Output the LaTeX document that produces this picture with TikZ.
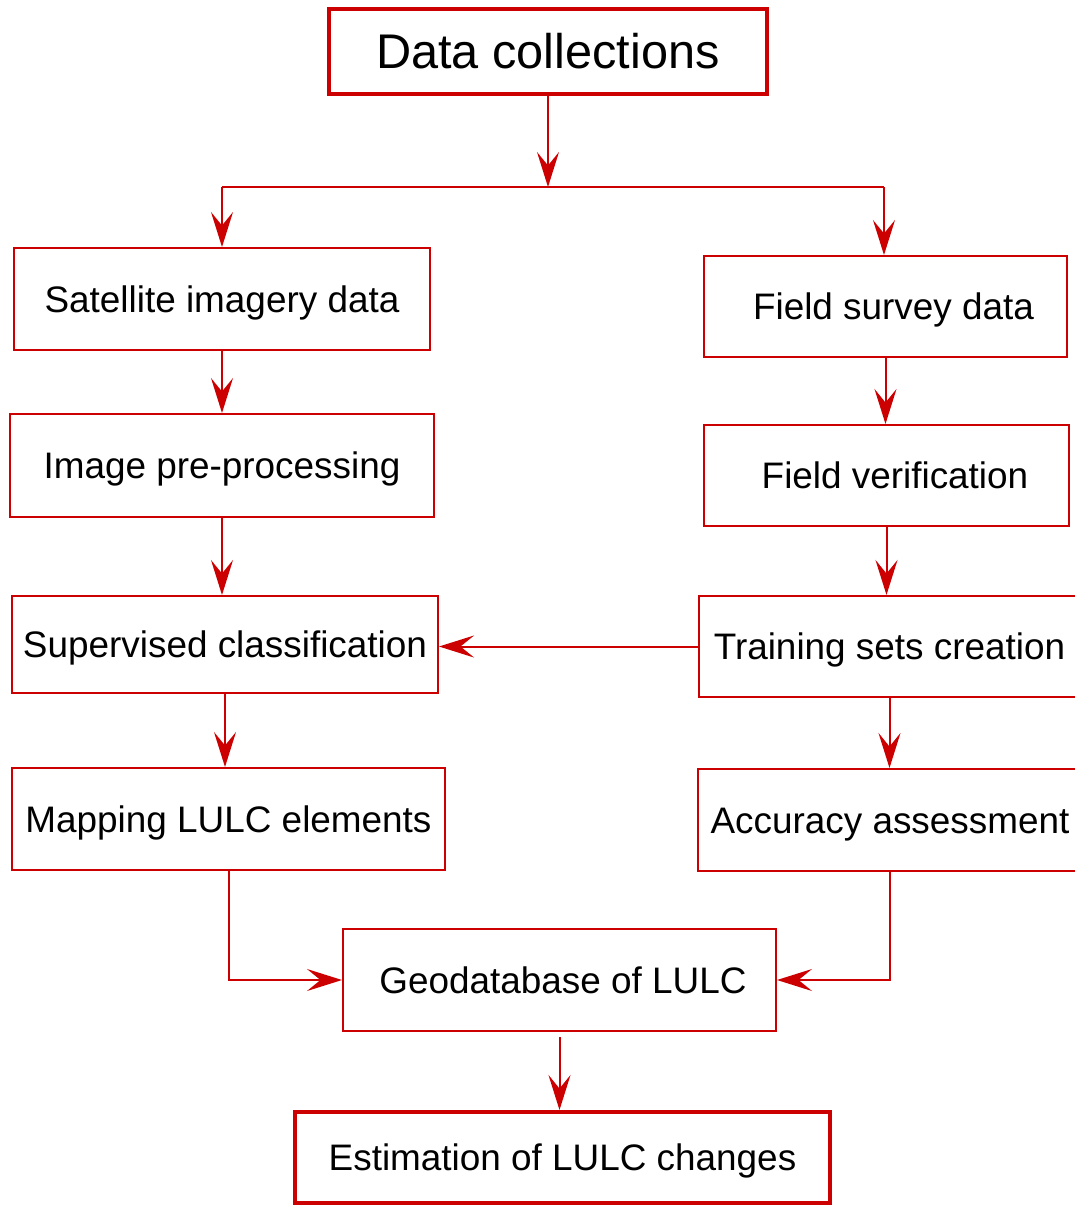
\documentclass[tikz,border=0pt]{standalone}
\usepackage{fontspec}
\setmainfont{Liberation Sans}
\usetikzlibrary{arrows.meta}
\definecolor{lred}{RGB}{204,0,0}
\begin{document}
\begin{tikzpicture}[x=0.02cm,y=-0.02cm,
  box/.style={draw=lred, line width=0.04cm, fill=white, inner sep=0pt,
    text height=15pt, text depth=0pt,
    font=\fontsize{21}{25}\selectfont, text=black},
  thickbox/.style={box, line width=0.08cm},
  arr/.style={draw=lred, line width=0.04cm,
    -{Stealth[length=0.7cm, width=0.44cm, inset=0.27cm]}},
  ln/.style={draw=lred, line width=0.04cm}]
\useasboundingbox[fill=white] (0,0) rectangle (1075,1205);

\node[thickbox, minimum width=438*0.02cm, minimum height=85*0.02cm,
  text height=19.8pt, font=\fontsize{27.7}{32}\selectfont] (dc) at (548,51.5) {Data collections};
\node[box, minimum width=416*0.02cm, minimum height=102*0.02cm] (sat) at (222,299) {Satellite imagery data};
\node[box, minimum width=363*0.02cm, minimum height=101*0.02cm] (fs) at (885.5,306.5) {\hspace{0.32cm}Field survey data};
\node[box, minimum width=424*0.02cm, minimum height=103*0.02cm] (ip) at (222,465.5) {Image pre-processing};
\node[box, minimum width=365*0.02cm, minimum height=101*0.02cm] (fv) at (886.5,475.5) {\hspace{0.34cm}Field verification};
\node[box, minimum width=426*0.02cm, minimum height=97*0.02cm] (sc) at (225,644.5) {Supervised classification};
\node[box, minimum width=381*0.02cm, minimum height=101*0.02cm] (ts) at (889.5,646.5) {Training sets creation\hspace{0.14cm}};
\node[box, minimum width=433*0.02cm, minimum height=102*0.02cm] (ml) at (228.5,819) {Mapping LULC elements};
\node[box, minimum width=384*0.02cm, minimum height=102*0.02cm] (aa) at (890,820) {Accuracy assessment};
\node[box, minimum width=433*0.02cm, minimum height=102*0.02cm] (gd) at (559.5,980) {\hspace{0.14cm}Geodatabase of LULC};
\node[thickbox, minimum width=535*0.02cm, minimum height=91*0.02cm] (es) at (562.5,1157.5) {Estimation of LULC changes\hspace{0.1cm}};

\coordinate (split) at (548,187);
\coordinate (lb) at (222,187);
\coordinate (rb) at (884,187);

\draw[arr] (dc.south) -- (split);
\draw[ln] (lb) -- (rb);
\draw[arr] (lb) -- (sat.north);
\draw[arr] (rb) -- (rb |- fs.north);
\draw[arr] (sat.south) -- (sat.south |- ip.north);
\draw[arr] (ip.south) -- (ip.south |- sc.north);
\draw[arr] (sc.south) -- (sc.south |- ml.north);
\draw[arr] (fs.south) -- (fs.south |- fv.north);
\draw[arr] (fv.south) -- (fv.south |- ts.north);
\draw[arr] (ts.west) -- (ts.west -| sc.east);
\draw[arr] (ts.south) -- (ts.south |- aa.north);
\draw[arr] (ml.south) |- (gd.west);
\draw[arr] (aa.south) |- (gd.east);
\draw[arr, shorten <=0.1cm] (gd.south) -- (gd.south |- es.north);
\end{tikzpicture}
\end{document}
